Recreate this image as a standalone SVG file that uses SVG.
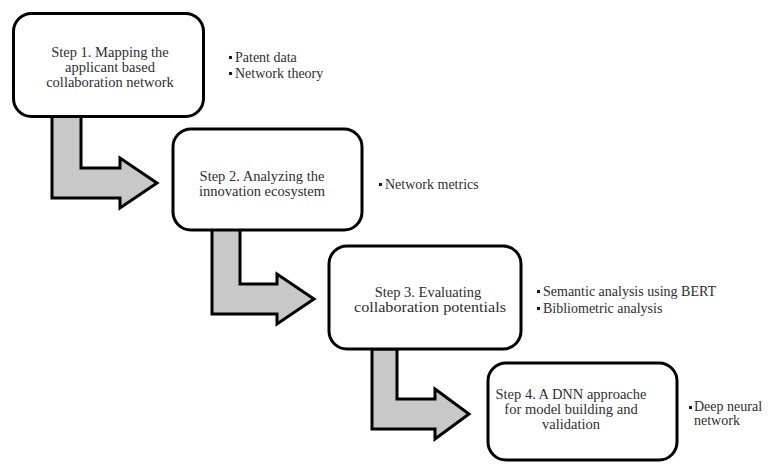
<svg xmlns="http://www.w3.org/2000/svg" width="768" height="464" viewBox="0 0 768 464">
  <style>
    .step { fill: #ffffff; stroke: #000000; stroke-width: 3; }
    .flow { fill: #c8c8c8; stroke: #000000; stroke-width: 3; stroke-linejoin: miter; }
    .label { font-family: 'Liberation Serif', 'DejaVu Serif', serif; font-size: 14.5px; fill: #2e2e2e; text-anchor: middle; }
    .note { font-family: 'Liberation Serif', 'DejaVu Serif', serif; font-size: 14px; fill: #2e2e2e; }
    .dot { fill: #1a1a1a; }
  </style>

  <rect width="768" height="464" fill="#ffffff"/>

  <!-- bent block arrows leading from one step to the next -->
  <g id="connectors">
    <path class="flow" d="M52,116 L81,116 L81,168 L120,168 L120,158 L157,183 L120,208 L120,198 L52,198 Z"/>
    <path class="flow" d="M212,229 L240,229 L240,284 L277,284 L277,274 L314,299 L277,324 L277,314 L212,314 Z"/>
    <path class="flow" d="M372,349 L397,349 L397,399 L435,399 L435,389 L469,414 L435,439 L435,429 L372,429 Z"/>
  </g>

  <g id="step1">
    <rect class="step" x="13.5" y="13.5" width="190" height="103" rx="18"/>
    <text class="label" x="110" y="57">Step 1. Mapping the</text>
    <text class="label" x="110" y="72">applicant based</text>
    <text class="label" x="110" y="87">collaboration network</text>
  </g>
  <g id="notes1">
    <rect class="dot" x="229" y="56" width="3" height="3"/>
    <text class="note" x="235" y="62">Patent data</text>
    <rect class="dot" x="229" y="72" width="3" height="3"/>
    <text class="note" x="235" y="78">Network theory</text>
  </g>

  <g id="step2">
    <rect class="step" x="173" y="129" width="189" height="101" rx="18"/>
    <text class="label" x="262" y="181">Step 2. Analyzing the</text>
    <text class="label" x="262" y="196">innovation ecosystem</text>
  </g>
  <g id="notes2">
    <rect class="dot" x="379" y="183" width="3" height="3"/>
    <text class="note" x="385" y="189">Network metrics</text>
  </g>

  <g id="step3">
    <rect class="step" x="329" y="246" width="192" height="103" rx="18"/>
    <text class="label" x="428" y="297">Step 3. Evaluating</text>
    <text class="label" x="430" y="312" textLength="152" lengthAdjust="spacingAndGlyphs">collaboration potentials</text>
  </g>
  <g id="notes3">
    <rect class="dot" x="537" y="290" width="3" height="3"/>
    <text class="note" x="543" y="296">Semantic analysis using BERT</text>
    <rect class="dot" x="537" y="307" width="3" height="3"/>
    <text class="note" x="543" y="313">Bibliometric analysis</text>
  </g>

  <g id="step4">
    <rect class="step" x="488" y="363" width="189" height="97" rx="18"/>
    <text class="label" x="571" y="399">Step 4. A DNN approache</text>
    <text class="label" x="571" y="414">for model building and</text>
    <text class="label" x="571" y="429">validation</text>
  </g>
  <g id="notes4">
    <rect class="dot" x="689" y="406" width="3" height="3"/>
    <text class="note" x="694" y="411">Deep neural</text>
    <text class="note" x="694" y="425">network</text>
  </g>
</svg>
